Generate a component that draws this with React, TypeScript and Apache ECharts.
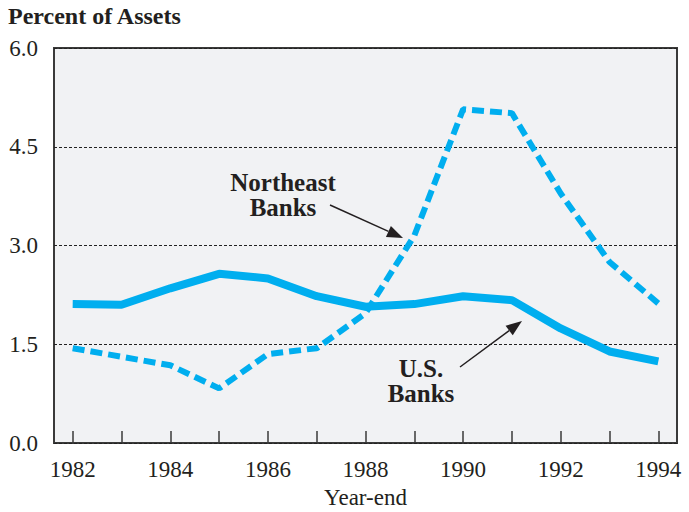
import React, { useEffect, useRef } from "react";
import * as echarts from "echarts";

const years = [1982, 1983, 1984, 1985, 1986, 1987, 1988, 1989, 1990, 1991, 1992, 1993, 1994];
const usBanks = [2.11, 2.1, 2.35, 2.57, 2.5, 2.23, 2.07, 2.11, 2.23, 2.17, 1.74, 1.39, 1.24];
const northeastBanks = [1.44, 1.31, 1.18, 0.83, 1.35, 1.44, 1.97, 3.15, 5.07, 5.01, 3.79, 2.75, 2.12];
const xLabelYears = [1982, 1984, 1986, 1988, 1990, 1992, 1994];
const yTicks = [0, 1.5, 3.0, 4.5, 6.0];

const FONT = "'Liberation Serif', 'Times New Roman', serif";
const TEXT = "#231f20";
const BLUE = "#00aeef";

function arrow(x1: number, y1: number, x2: number, y2: number) {
  const dx = x2 - x1;
  const dy = y2 - y1;
  const len = Math.sqrt(dx * dx + dy * dy);
  const ux = dx / len;
  const uy = dy / len;
  const hl = 16;
  const hw = 6;
  const bx = x2 - hl * ux;
  const by = y2 - hl * uy;
  const nx = -uy * hw;
  const ny = ux * hw;
  return [
    {
      type: "line",
      shape: { x1, y1, x2: bx, y2: by },
      style: { stroke: TEXT, lineWidth: 1.5 },
    },
    {
      type: "polygon",
      shape: {
        points: [
          [x2, y2],
          [bx + nx, by + ny],
          [bx - nx, by - ny],
        ],
      },
      style: { fill: TEXT },
    },
  ];
}

function label(text: string, x: number, y: number) {
  return {
    type: "text",
    x,
    y,
    style: {
      text,
      font: `bold 25px ${FONT}`,
      fill: TEXT,
      align: "center",
      verticalAlign: "middle",
    },
  };
}

export default function App() {
  const ref = useRef<HTMLDivElement>(null);
  useEffect(() => {
    if (!ref.current) return;
    const chart = echarts.init(ref.current, null, { renderer: "svg" });
    chart.setOption({
      animation: false,
      backgroundColor: "#ffffff",
      grid: {
        left: 54,
        right: 12,
        top: 48,
        bottom: 69,
        containLabel: false,
        outerBoundsMode: "none",
        show: true,
        backgroundColor: "#f1f2f4",
        borderColor: "#3a3a3a",
        borderWidth: 2,
      },
      xAxis: {
        type: "value",
        min: 1981.617,
        max: 1994.383,
        name: "Year-end",
        nameLocation: "middle",
        nameGap: 43,
        nameTextStyle: { fontFamily: FONT, fontSize: 23, color: TEXT },
        axisLine: { show: false },
        splitLine: { show: false },
        axisTick: {
          show: true,
          inside: true,
          length: 12,
          customValues: years,
          lineStyle: { color: "#3a3a3a", width: 1.5 },
        },
        axisLabel: {
          customValues: xLabelYears,
          formatter: (v: number) => String(v),
          fontFamily: FONT,
          fontSize: 23,
          color: TEXT,
          margin: 15,
        },
      },
      yAxis: {
        type: "value",
        min: 0,
        max: 6,
        interval: 1.5,
        axisLine: { show: false },
        axisTick: { show: false },
        axisLabel: {
          customValues: yTicks,
          formatter: (v: number) => v.toFixed(1),
          fontFamily: FONT,
          fontSize: 23,
          color: TEXT,
          margin: 16,
        },
        splitLine: {
          show: true,
          lineStyle: { color: "#222", width: 1, type: [3, 2] },
        },
      },
      series: [
        {
          type: "line",
          name: "Northeast Banks",
          data: years.map((y, i) => [y, northeastBanks[i]]),
          symbol: "none",
          lineStyle: { color: BLUE, width: 6, type: [12, 6] },
          z: 3,
        },
        {
          type: "line",
          name: "U.S. Banks",
          data: years.map((y, i) => [y, usBanks[i]]),
          symbol: "none",
          lineStyle: { color: BLUE, width: 8 },
          z: 4,
        },
      ],
      graphic: [
        {
          type: "text",
          left: 8,
          top: 4,
          style: {
            text: "Percent of Assets",
            font: `bold 24px ${FONT}`,
            fill: TEXT,
          },
        },
        label("Northeast", 283, 182),
        label("Banks", 283, 207),
        label("U.S.", 421, 368),
        label("Banks", 421, 393),
        ...arrow(330, 205, 403, 238),
        ...arrow(460, 367, 522, 321),
      ],
    });
    return () => chart.dispose();
  }, []);
  return (
    <div
      ref={ref}
      style={{ position: "fixed", left: 0, top: 0, width: 689, height: 512 }}
    />
  );
}
